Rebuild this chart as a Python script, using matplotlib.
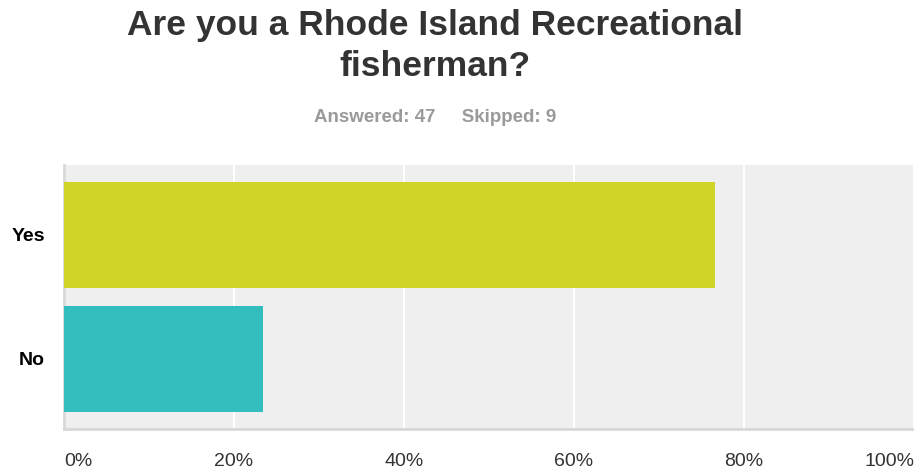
import matplotlib.pyplot as plt

# Données
categories = ["No", "Yes"]
percents = [23.4, 76.6]
bar_colors = ["#33bdbf", "#cfd427"]
xticks = [0, 20, 40, 60, 80, 100]
xtick_labels = ["0%", "20%", "40%", "60%", "80%", "100%"]

plt.rcParams["font.family"] = ["Liberation Sans", "DejaVu Sans"]

fig = plt.figure(figsize=(9.14, 4.74), dpi=100)
ax = fig.add_axes([0.070, 0.095, 0.930, 0.557])

# Barres
ax.barh(categories, percents, height=0.855, color=bar_colors, zorder=3)

ax.set_xlim(0, 100)
ax.set_ylim(-0.565, 1.565)
ax.set_facecolor("#efefef")

# Grille
ax.set_xticks(xticks)
ax.set_xticklabels(xtick_labels, fontsize=14, color="#333333")
ax.grid(axis="x", color="white", linewidth=1.5, zorder=1)
ax.tick_params(axis="x", length=0, pad=17)
ax.tick_params(axis="y", length=0, pad=13.5)
for lbl in ax.get_yticklabels():
    lbl.set_fontweight("bold")
    lbl.set_fontsize(14)
    lbl.set_color("black")

labels = ax.get_xticklabels()
labels[0].set_horizontalalignment("left")
labels[-1].set_horizontalalignment("right")

for side in ["top", "right"]:
    ax.spines[side].set_visible(False)
ax.spines["left"].set_color("#d8d8d8")
ax.spines["left"].set_linewidth(2)
ax.spines["bottom"].set_color("#d8d8d8")
ax.spines["bottom"].set_linewidth(2)

# Titre
fig.text(0.476, 0.981, "Are you a Rhode Island Recreational\nfisherman?",
         ha="center", va="top", fontsize=25.5, fontweight="bold",
         color="#333333", linespacing=1.3)
fig.text(0.476, 0.753, "Answered: 47     Skipped: 9",
         ha="center", va="center", fontsize=13.5, fontweight="bold",
         color="#9a9a9a")

fig.savefig("out.png", dpi=100)
